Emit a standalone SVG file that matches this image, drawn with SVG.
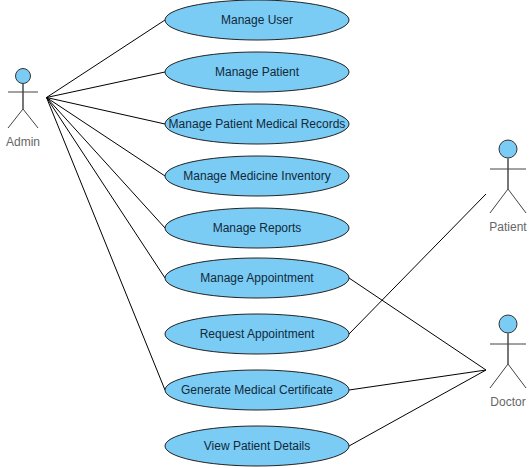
<svg xmlns="http://www.w3.org/2000/svg" width="532" height="468" viewBox="0 0 532 468">
<style>
.uc ellipse{fill:#7accf5;stroke:#222;stroke-width:1}
.uc text{font-family:"Liberation Sans",Arial,sans-serif;font-size:12px;fill:#12293a;text-anchor:middle}
.actor circle{fill:#7accf5;stroke:#333;stroke-width:1}
.actor line{stroke:#444;stroke-width:1}
.actor .body{stroke:#777;stroke-width:2}
.actor text{font-family:"Liberation Sans",Arial,sans-serif;font-size:12px;fill:#666;text-anchor:middle}
#connectors line{stroke:#000;stroke-width:1}
</style>
<rect width="532" height="468" fill="#fff"/>
<g id="connectors">
<line x1="46.5" y1="97.5" x2="165" y2="20"/>
<line x1="46.5" y1="97.5" x2="165" y2="72"/>
<line x1="46.5" y1="97.5" x2="165" y2="124"/>
<line x1="46.5" y1="97.5" x2="165" y2="176"/>
<line x1="46.5" y1="97.5" x2="165" y2="228"/>
<line x1="46.5" y1="97.5" x2="165" y2="278"/>
<line x1="46.5" y1="97.5" x2="165" y2="390"/>
<line x1="349" y1="278" x2="486" y2="370"/>
<line x1="349" y1="334" x2="486" y2="194"/>
<line x1="349" y1="390" x2="486" y2="370"/>
<line x1="349" y1="446" x2="486" y2="370"/>
</g>
<g id="uc1" class="uc"><ellipse cx="257" cy="20" rx="92" ry="20"/><text x="257" y="24">Manage User</text></g>
<g id="uc2" class="uc"><ellipse cx="257" cy="72" rx="92" ry="20"/><text x="257" y="76">Manage Patient</text></g>
<g id="uc3" class="uc"><ellipse cx="257" cy="124" rx="92" ry="20"/><text x="257" y="128">Manage Patient Medical Records</text></g>
<g id="uc4" class="uc"><ellipse cx="257" cy="176" rx="92" ry="20"/><text x="257" y="180">Manage Medicine Inventory</text></g>
<g id="uc5" class="uc"><ellipse cx="257" cy="228" rx="92" ry="20"/><text x="257" y="232">Manage Reports</text></g>
<g id="uc6" class="uc"><ellipse cx="257" cy="278" rx="92" ry="20"/><text x="257" y="282">Manage Appointment</text></g>
<g id="uc7" class="uc"><ellipse cx="257" cy="334" rx="92" ry="20"/><text x="257" y="338">Request Appointment</text></g>
<g id="uc8" class="uc"><ellipse cx="257" cy="390" rx="92" ry="20"/><text x="257" y="394">Generate Medical Certificate</text></g>
<g id="uc9" class="uc"><ellipse cx="257" cy="446" rx="92" ry="20"/><text x="257" y="450">View Patient Details</text></g>
<g id="admin" class="actor">
<circle cx="23" cy="76" r="7.5"/>
<line class="body" x1="23" y1="84" x2="23" y2="109"/>
<line x1="8" y1="92" x2="38" y2="92"/>
<line x1="23" y1="109" x2="8" y2="128"/>
<line x1="23" y1="109" x2="38" y2="128"/>
<text x="23" y="146">Admin</text>
</g>
<g id="patient" class="actor">
<circle cx="508" cy="149" r="9"/>
<line class="body" x1="508" y1="158" x2="508" y2="189"/>
<line x1="490" y1="169" x2="526" y2="169"/>
<line x1="508" y1="189" x2="490" y2="213"/>
<line x1="508" y1="189" x2="526" y2="213"/>
<text x="508" y="231">Patient</text>
</g>
<g id="doctor" class="actor">
<circle cx="508" cy="324" r="9"/>
<line class="body" x1="508" y1="333" x2="508" y2="364"/>
<line x1="490" y1="344" x2="526" y2="344"/>
<line x1="508" y1="364" x2="490" y2="388"/>
<line x1="508" y1="364" x2="526" y2="388"/>
<text x="508" y="406">Doctor</text>
</g>
</svg>
